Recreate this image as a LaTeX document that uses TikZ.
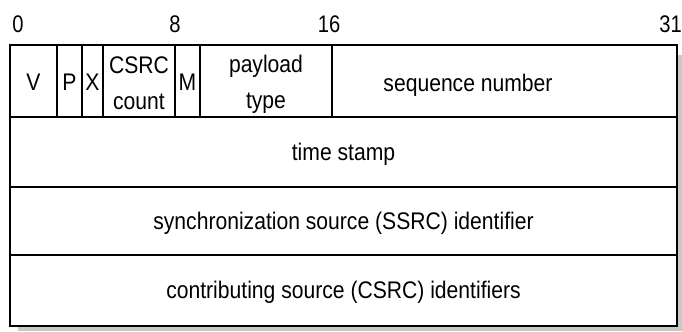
\documentclass[tikz,border=0pt]{standalone}
\usepackage{fontspec}
\setmainfont{Liberation Sans}
\newfontfamily\cellfont[FakeStretch=0.88]{Liberation Sans}
\newfontfamily\numfont[FakeStretch=0.84]{Liberation Sans}
\begin{document}
\begin{tikzpicture}[x=1bp,y=-1bp,
  frame/.style={line width=1.5bp,draw=black},
  celltext/.style={inner sep=0pt,anchor=base,font=\cellfont\fontsize{24bp}{28bp}\selectfont},
  bitnum/.style={inner sep=0pt,anchor=base,font=\numfont\fontsize{24bp}{28bp}\selectfont}]
\useasboundingbox (0,0) rectangle (682,331);
% shadow
\fill[gray!42] (18,55) rectangle (682,331);
% main box
\fill[white] (10,45) rectangle (677,326);
\draw[frame] (10,45) rectangle (677,326);
% row separators
\draw[frame] (10,117) -- (677,117);
\draw[frame] (10,187) -- (677,187);
\draw[frame] (10,255) -- (677,255);
% column separators in first row
\foreach \xx in {57,82,103,175,200,332}
  \draw[frame] (\xx,45) -- (\xx,117);
% bit numbers
\node[bitnum] (b0) at (18,32) {0};
\node[bitnum] (b8) at (175,32) {8};
\node[bitnum] (b16) at (329,32) {16};
\node[bitnum,anchor=base east] (b31) at (682,32) {31};
% first row fields
\node[celltext] (v) at (33.5,90) {V};
\node[celltext] (p) at (69.5,90) {P};
\node[celltext] (x) at (92.5,90) {X};
\node[celltext] (cc1) at (139,73) {CSRC};
\node[celltext] (cc2) at (139,109) {count};
\node[celltext] (m) at (187.5,90) {M};
\node[celltext] (pt1) at (266,72) {payload};
\node[celltext] (pt2) at (266,108) {type};
\node[celltext] (seq) at (468,91) {sequence number};
% other rows
\node[celltext] (ts) at (343.5,160) {time stamp};
\node[celltext] (ssrc) at (343.5,229) {synchronization source (SSRC) identifier};
\node[celltext] (csrc) at (343.5,298) {contributing source (CSRC) identifiers};
\end{tikzpicture}
\end{document}
